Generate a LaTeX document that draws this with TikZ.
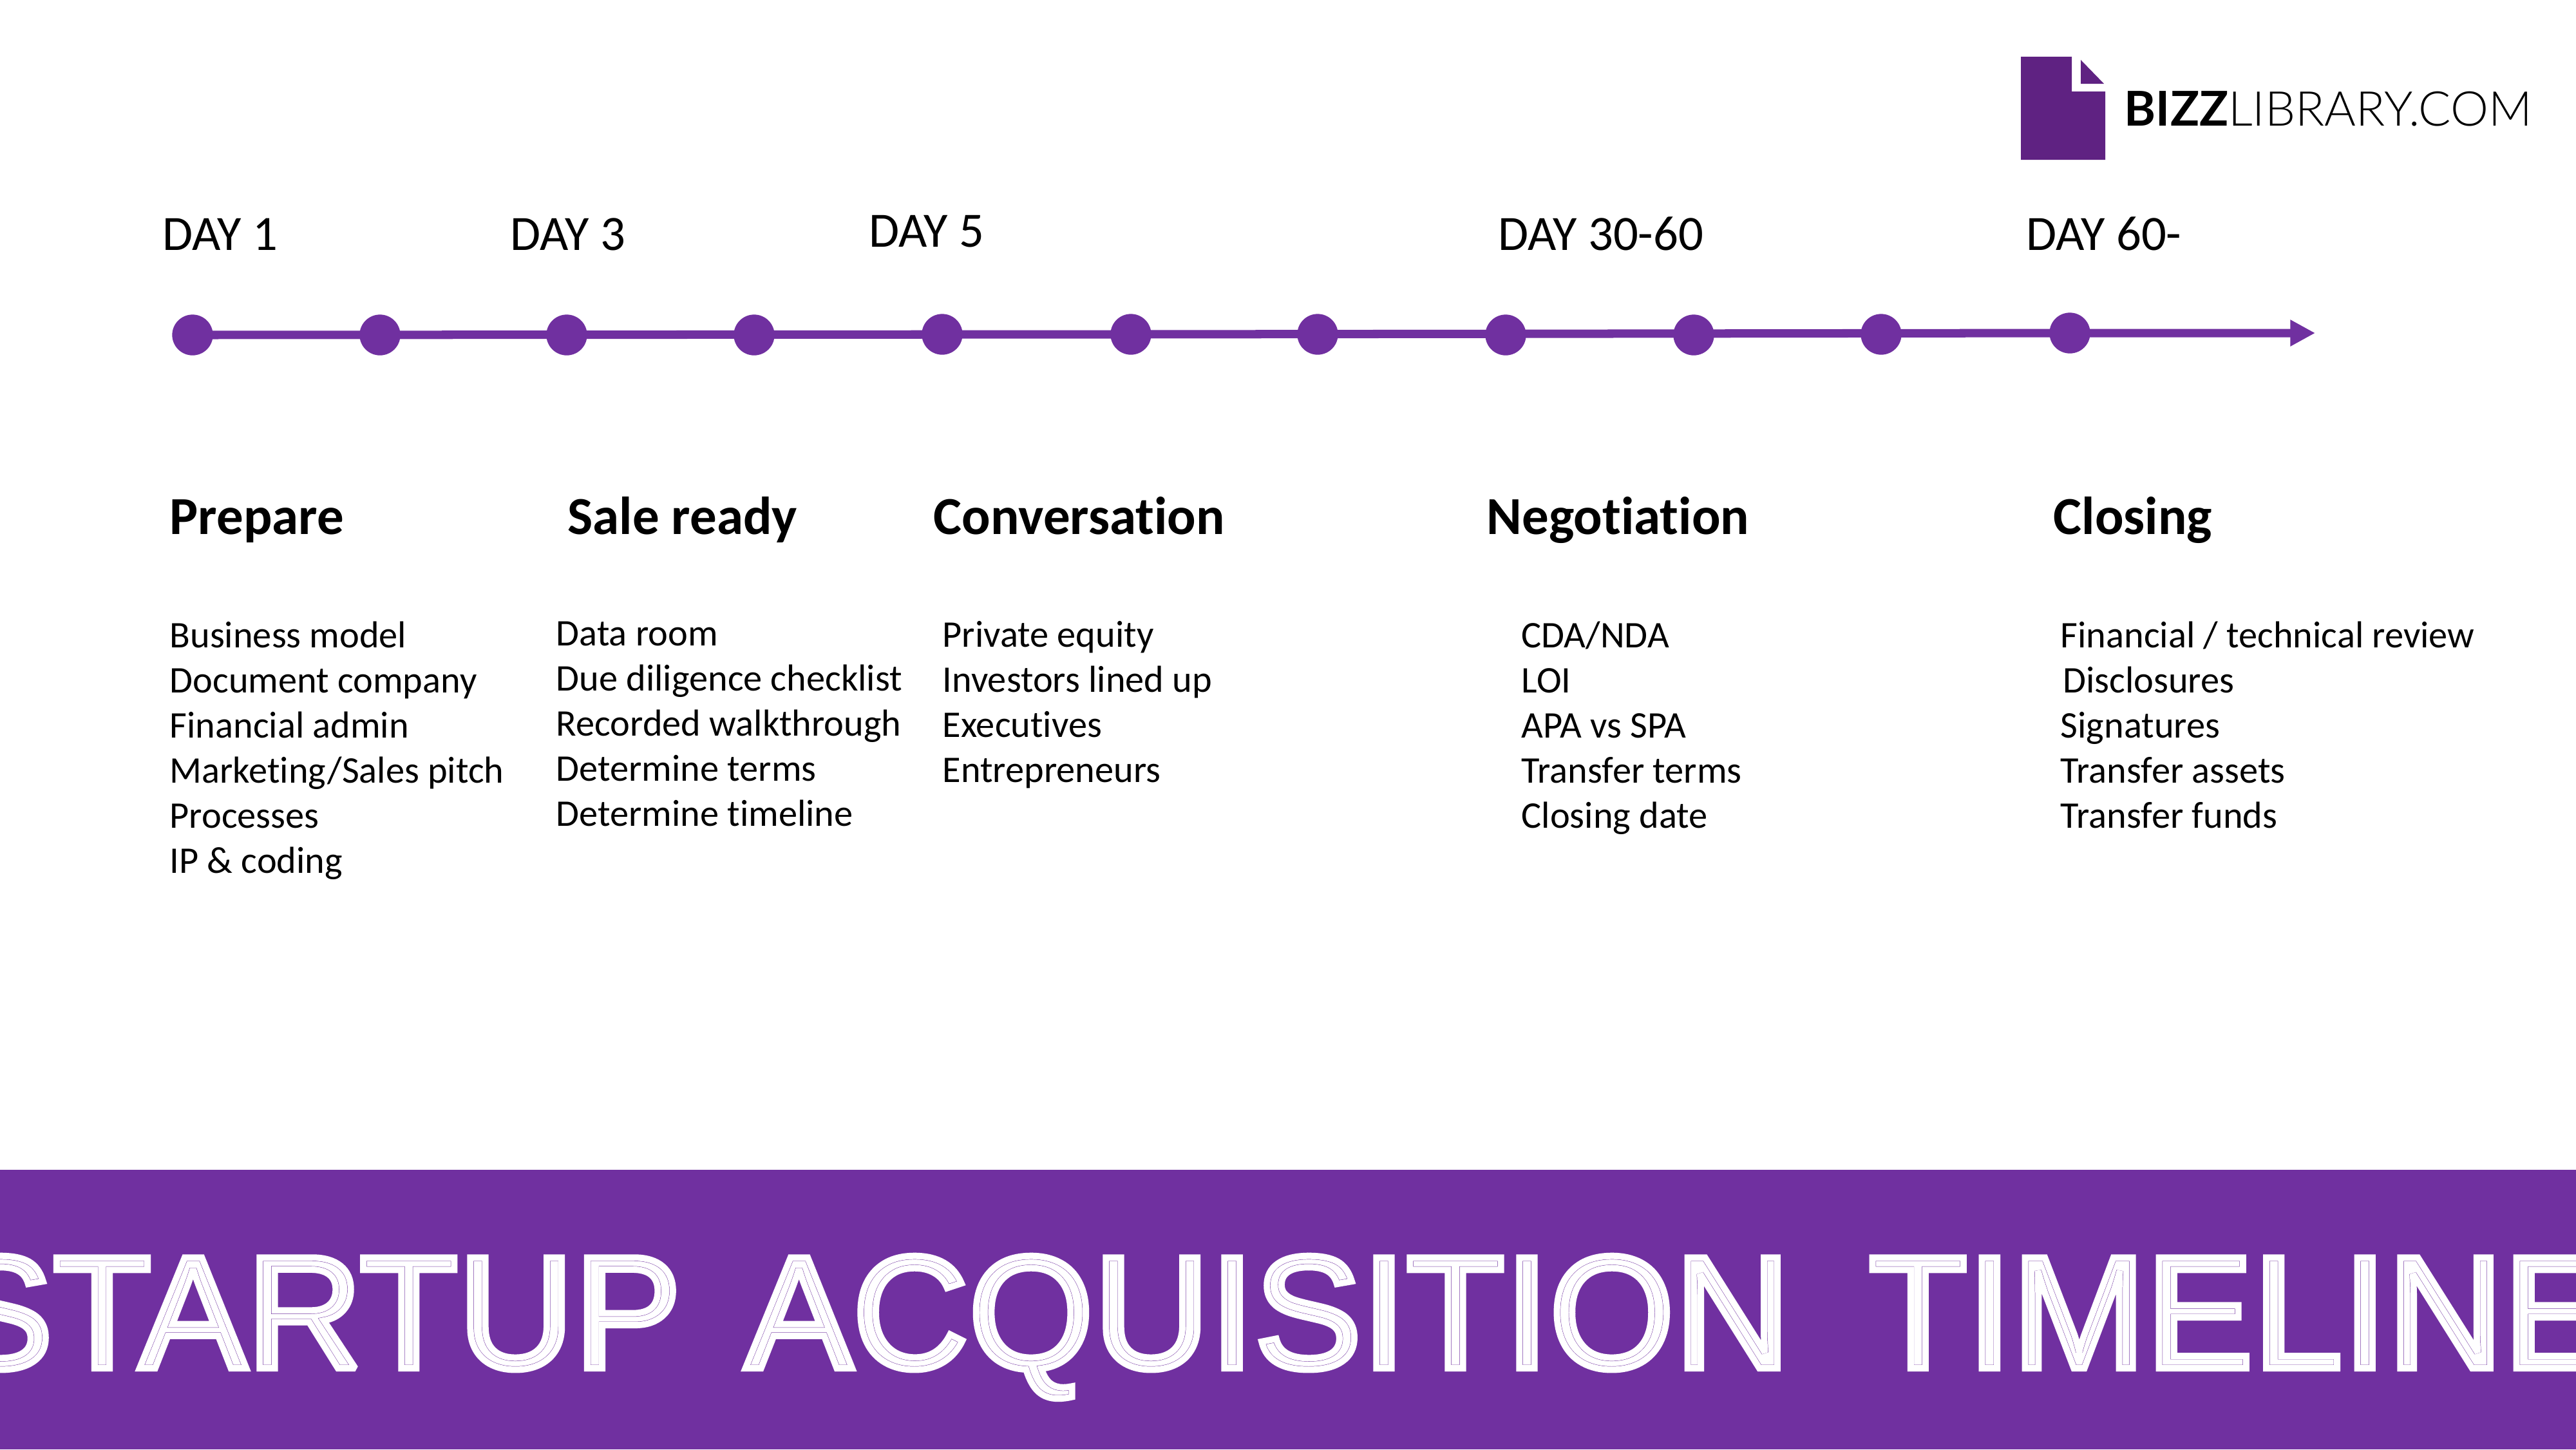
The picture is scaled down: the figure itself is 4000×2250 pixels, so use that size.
\documentclass[tikz,border=0pt]{standalone}
\usepackage{fontspec}
\usetikzlibrary{arrows.meta}
\setmainfont[Ligatures=NoCommon]{Carlito}
\newfontfamily\titlefont{Liberation Sans}
\newfontfamily\logofont{Lato}
\newfontfamily\logothin{Lato Light}
\definecolor{acqpurple}{HTML}{7030A0}
\definecolor{logopurple}{HTML}{5F2282}
\newcommand{\titletext}[1]{\special{pdf:code 2 M #1}\titlefont\fontsize{71}{71}\selectfont STARTUP\hspace{.12em} ACQUISITION\hspace{.21em} TIMELINE}
\tikzset{
  dot/.style={circle,fill=acqpurple,inner sep=0pt,minimum size=18pt},
  dayhead/.style={anchor=base west,inner sep=0pt,font=\fontsize{21.8}{26}\selectfont},
  stagehead/.style={anchor=base west,inner sep=0pt,font=\bfseries\fontsize{23.6}{28}\selectfont},
  stagelist/.style={anchor=north west,inner sep=0pt,align=left,font=\fontsize{16.6}{19.9}\selectfont,execute at begin node=\rule{0pt}{14pt}},
  titleword/.style={anchor=base west,inner sep=0pt}
}
\begin{document}
\begin{tikzpicture}[x=0.01cm,y=-0.01cm]
  \path[use as bounding box] (0,0) rectangle (4000,2250) ;
  \clip (0,0) rectangle (4000,2250) ;
  % banner
  \fill[acqpurple] (0,1816) rectangle (4000,2250) ;
  \node[titleword,text=white] (title1) at (-85,2124) {\titletext{2 Tr 2.83 w}} ;
  \node[titleword,text=acqpurple] (title2) at (-85,2124) {\titletext{1 Tr 3.1 w}} ;
  \node[titleword,text=white] (title3) at (-85,2124) {\titletext{1 Tr 2.83 w}} ;
  % logo
  \fill[logopurple] (3138,88) -- (3217,88) -- (3217,142) -- (3269,142) -- (3269,248) -- (3138,248) -- cycle ;
  \fill[logopurple] (3231,93) -- (3267,130) -- (3231,130) -- cycle ;
  \node[anchor=base west,inner sep=0pt,font=\fontsize{21.2}{25}\selectfont] (logo) at (3298,195)
    {{\logofont\bfseries BIZZ}{\logothin LIBRARY.COM}} ;
  % timeline
  \foreach \n/\x/\y in {1/299/520,2/590/520,3/880/520,4/1171/520,5/1463/519,6/1756/519,
    7/2046/519,8/2338/520,9/2630/520,10/2921/519,11/3214/517}
    \node[dot] (d\n) at (\x,\y) {} ;
  \coordinate (tip) at (3595,517) ;
  \draw[acqpurple,line width=3.7pt,-{Triangle[length=11pt,width=11pt]}] (d1.center) -- (d6.center) -- (d11.center) -- (tip) ;
  % days
  \node[dayhead] (day1) at (252,388) {DAY 1} ;
  \node[dayhead] (day3) at (792,388) {DAY 3} ;
  \node[dayhead] (day5) at (1349,383) {DAY 5} ;
  \node[dayhead] (day30) at (2326,388) {DAY 30-60} ;
  \node[dayhead] (day60) at (3146,388) {DAY 60-} ;
  % stages
  \node[stagehead] (prepare) at (263,829) {Prepare} ;
  \node[stagehead] (sale) at (881,829) {Sale ready} ;
  \node[stagehead] (conv) at (1449,829) {Conversation} ;
  \node[stagehead] (nego) at (2308,829) {Negotiation} ;
  \node[stagehead] (closing) at (3188,829) {Closing} ;
  \node[stagelist] (listprepare) at (263,964) {Business model\\Document company\\Financial admin\\Marketing/Sales pitch\\Processes\\IP \& coding} ;
  \node[stagelist] (listsale) at (863,964) {Data room\\Due diligence checklist\\Recorded walkthrough\\Determine terms\\Determine timeline} ;
  \node[stagelist] (listconv) at (1463,964) {Private equity\\Investors lined up\\Executives\\Entrepreneurs} ;
  \node[stagelist] (listnego) at (2362,964) {CDA/NDA\\LOI\\APA vs SPA\\Transfer terms\\Closing date} ;
  \node[stagelist] (listclosing) at (3199,964) {Financial / technical review\\\hspace{1pt}Disclosures\\Signatures\\Transfer assets\\Transfer funds} ;
\end{tikzpicture}
\end{document}
